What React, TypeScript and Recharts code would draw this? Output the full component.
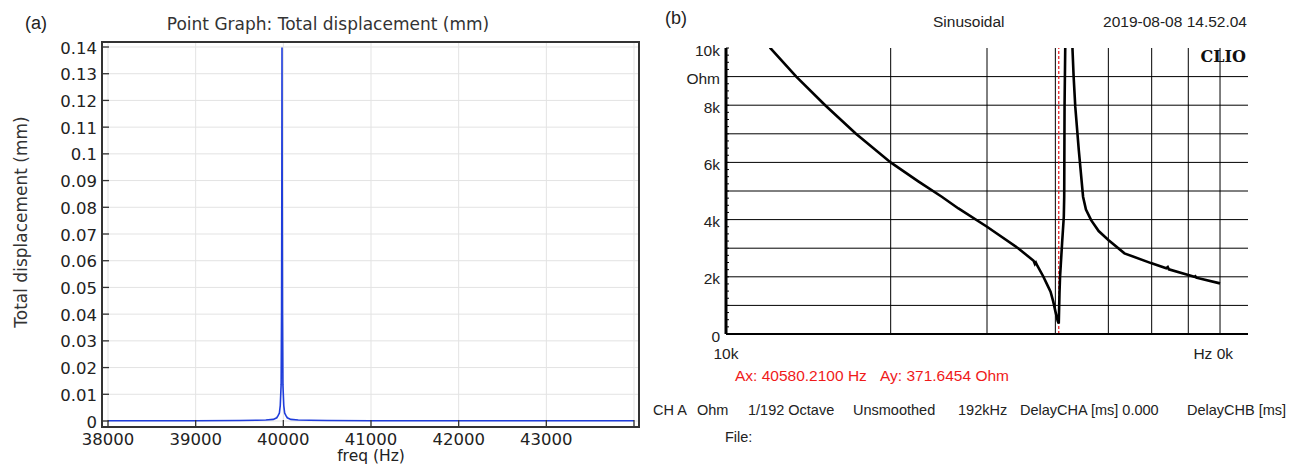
import React from "react";
import { LineChart, Line, XAxis, YAxis, CartesianGrid, ReferenceLine } from "recharts";

// ---------- Panel (a): COMSOL point graph ----------
const freqA = [38000, 39000, 39500, 39700, 39800, 39885, 39925, 39940, 39955, 39965, 39975, 39980, 39983, 39985, 39987, 39990, 39995, 40005, 40015, 40030, 40045, 40085, 40170, 40300, 40500, 41000, 42000, 43000, 44000];
const dispA = [0.0001, 0.0001, 0.0002, 0.0003, 0.0004, 0.0006, 0.0012, 0.002, 0.003, 0.0058, 0.0137, 0.042, 0.09, 0.1398, 0.09, 0.042, 0.0137, 0.0058, 0.003, 0.002, 0.0012, 0.0006, 0.0004, 0.0003, 0.0002, 0.0001, 0.0001, 0.0001, 0.0001];
const xTicksA = [38000, 39000, 40000, 41000, 42000, 43000, 44000];
const xLabelsA = ["38000", "39000", "40000", "41000", "42000", "43000", ""];
const yTicksA = [0, 0.01, 0.02, 0.03, 0.04, 0.05, 0.06, 0.07, 0.08, 0.09, 0.1, 0.11, 0.12, 0.13, 0.14];
const yLabelsA = ["0", "0.01", "0.02", "0.03", "0.04", "0.05", "0.06", "0.07", "0.08", "0.09", "0.1", "0.11", "0.12", "0.13", "0.14"];

// ---------- Panel (b): CLIO impedance ----------
const freqB = [11500, 12050, 13440, 15180, 17280, 20000, 22500, 24800, 26600, 30000, 34200, 36500, 36700, 36850, 37100, 38000, 38550, 39200, 39650, 40000, 40400, 40580, 40700, 40800, 41150, 41450, 41520, 41580, 41700, 42000, 42600, 43000, 43200, 43500, 44150, 44950, 45500, 46500, 48000, 50000, 53500, 60000, 63800, 64200, 64500, 70000, 71800, 72100, 72400, 80000];
const ohmB = [11000, 10000, 9000, 8000, 7000, 6000, 5330, 4800, 4390, 3750, 3000, 2560, 2450, 2500, 2380, 2020, 1770, 1480, 1130, 800, 450, 372, 1400, 2000, 3170, 4100, 4800, 7950, 10000, 13000, 13000, 9930, 9000, 7950, 6430, 4800, 4350, 3980, 3600, 3290, 2820, 2470, 2300, 2340, 2260, 2060, 2000, 2020, 1970, 1770];
const yGridB = [1000, 2000, 3000, 4000, 5000, 6000, 7000, 8000, 9000];
const yLabelTicksB = [0, 2000, 4000, 6000, 8000, 9000, 10000];
const yLabelsB = ["0", "2k", "4k", "6k", "8k", "Ohm", "10k"];
const yMinorB = Array.from({ length: 41 }, (_, i) => i * 250);
const xGridB = [20000, 30000, 40000, 50000, 60000, 70000, 80000];
const xTicksB = [10000, 90000];
const xLabelsB = ["10k", "Hz 0k"];
const cursorB = 40580;

const dataA = freqA.map((f, i) => ({ f, d: dispA[i] }));
const dataB = freqB.map((f, i) => ({ f, z: ohmB[i] }));

const FA = "'DejaVu Sans', sans-serif";
const FB = "'Liberation Sans', Arial, sans-serif";
const AXA = "#333333";

function T({ x, y, s, f, c = "#222", a = "start", w = 400, rot, children }: any) {
  const tx = a === "end" ? "-100%" : a === "middle" ? "-50%" : "0";
  return (
    <div
      style={{
        position: "absolute",
        left: x,
        top: y,
        transform: `translate(${tx}, -50%)${rot ? ` rotate(${rot}deg)` : ""}`,
        fontFamily: f,
        fontSize: s,
        color: c,
        fontWeight: w,
        whiteSpace: "nowrap",
        lineHeight: 1,
      }}
    >
      {children}
    </div>
  );
}

const LeftTickA = (p: any) => {
  const i = yTicksA.indexOf(p.payload.value);
  return (
    <g>
      <line x1={p.x} x2={p.x + 7} y1={p.y} y2={p.y} stroke={AXA} strokeWidth={1.3} />
      <text x={p.x - 5} y={p.y + 1} textAnchor="end" dominantBaseline="central" fontFamily={FA} fontSize={16.5} fill="#222">
        {yLabelsA[i]}
      </text>
    </g>
  );
};
const RightTickA = (p: any) => (
  <line x1={p.x} x2={p.x - 7} y1={p.y} y2={p.y} stroke={AXA} strokeWidth={1.3} />
);
const BottomTickA = (p: any) => {
  const i = xTicksA.indexOf(p.payload.value);
  return (
    <g>
      <line x1={p.x} x2={p.x} y1={p.y} y2={p.y - 7} stroke={AXA} strokeWidth={1.3} />
      <text x={p.x} y={p.y + 12.5} textAnchor="middle" dominantBaseline="central" fontFamily={FA} fontSize={16.5} fill="#222">
        {xLabelsA[i]}
      </text>
    </g>
  );
};
const TopTickA = (p: any) => (
  <line x1={p.x} x2={p.x} y1={p.y} y2={p.y + 7} stroke={AXA} strokeWidth={1.3} />
);

const LeftTickB = (p: any) => {
  const i = yLabelTicksB.indexOf(p.payload.value);
  return (
    <g>
      <line x1={p.x} x2={p.x + 3} y1={p.y} y2={p.y} stroke="#000" strokeWidth={1} />
      {i >= 0 ? (
        <text x={p.x - 6} y={p.y + 2} textAnchor="end" dominantBaseline="central" fontFamily={FB} fontSize={15.5} fill="#222">
          {yLabelsB[i]}
        </text>
      ) : null}
    </g>
  );
};
const RightTickB = (p: any) => (
  <line x1={p.x} x2={p.x - 3} y1={p.y} y2={p.y} stroke="#000" strokeWidth={1} />
);
const BottomTickB = (p: any) => {
  const i = xTicksB.indexOf(p.payload.value);
  const last = i === xTicksB.length - 1;
  return (
    <text
      x={last ? p.x - 15 : p.x}
      y={p.y + 19}
      textAnchor={last ? "end" : "middle"}
      dominantBaseline="central"
      fontFamily={FB}
      fontSize={15.5}
      fill="#222"
    >
      {xLabelsB[i]}
    </text>
  );
};

export default function App() {
  return (
    <div style={{ position: "absolute", left: 0, top: 0, width: 1305, height: 467, background: "#fff", overflow: "hidden" }}>
      {/* Panel (a) */}
      <div style={{ position: "absolute", left: 0, top: 0 }}>
        <LineChart width={650} height={467} data={dataA} margin={{ top: 42, right: 11, bottom: 10, left: 0 }}>
          <CartesianGrid stroke="#e3e3e3" strokeWidth={1} />
          <XAxis
            dataKey="f"
            type="number"
            domain={[38000, 44000]}
            ticks={xTicksA}
            interval={0}
            padding={{ left: 6, right: 5 }}
            height={30}
            tickSize={0}
            tickMargin={0}
            tickLine={false}
            axisLine={{ stroke: AXA, strokeWidth: 2 }}
            tick={BottomTickA}
          />
          <XAxis
            xAxisId="top"
            orientation="top"
            dataKey="f"
            type="number"
            domain={[38000, 44000]}
            ticks={xTicksA}
            interval={0}
            padding={{ left: 6, right: 5 }}
            height={0}
            tickSize={0}
            tickMargin={0}
            tickLine={false}
            axisLine={{ stroke: AXA, strokeWidth: 2 }}
            tick={TopTickA}
          />
          <YAxis
            type="number"
            domain={[0, 0.14]}
            ticks={yTicksA}
            interval={0}
            padding={{ top: 5, bottom: 6 }}
            width={102}
            tickSize={0}
            tickMargin={0}
            tickLine={false}
            axisLine={{ stroke: AXA, strokeWidth: 2 }}
            tick={LeftTickA}
          />
          <YAxis
            yAxisId="right"
            orientation="right"
            type="number"
            domain={[0, 0.14]}
            ticks={yTicksA}
            interval={0}
            padding={{ top: 5, bottom: 6 }}
            width={0}
            tickSize={0}
            tickMargin={0}
            tickLine={false}
            axisLine={{ stroke: AXA, strokeWidth: 2 }}
            tick={RightTickA}
          />
          <Line dataKey="d" type="linear" stroke="#1f3ddb" strokeWidth={1.6} dot={false} isAnimationActive={false} />
        </LineChart>
      </div>
      {/* plot frame of panel (a) */}
      <div style={{ position: "absolute", left: 101, top: 41, width: 539, height: 387, border: `2px solid ${AXA}`, boxSizing: "border-box", pointerEvents: "none" }} />

      {/* Panel (b) */}
      <div style={{ position: "absolute", left: 650, top: 0 }}>
        <LineChart width={655} height={467} data={dataB} margin={{ top: 48, right: 57, bottom: 103, left: 0 }}>
          <XAxis
            dataKey="f"
            type="number"
            scale="log"
            domain={[10000, 90000]}
            allowDataOverflow
            ticks={xTicksB}
            interval={0}
            height={30}
            tickSize={0}
            tickMargin={0}
            tickLine={false}
            axisLine={{ stroke: "#000", strokeWidth: 2 }}
            tick={BottomTickB}
          />
          <XAxis
            xAxisId="top"
            orientation="top"
            dataKey="f"
            type="number"
            scale="log"
            domain={[10000, 90000]}
            allowDataOverflow
            height={0}
            tick={false}
            tickLine={false}
            axisLine={{ stroke: "#000", strokeWidth: 2 }}
          />
          <YAxis
            type="number"
            domain={[0, 10000]}
            allowDataOverflow
            ticks={yMinorB}
            interval={0}
            width={76}
            tickSize={0}
            tickMargin={0}
            tickLine={false}
            axisLine={{ stroke: "#000", strokeWidth: 3 }}
            tick={LeftTickB}
          />
          <YAxis
            yAxisId="right"
            orientation="right"
            type="number"
            domain={[0, 10000]}
            ticks={yMinorB}
            interval={0}
            width={0}
            tickSize={0}
            tickMargin={0}
            tickLine={false}
            axisLine={{ stroke: "#000", strokeWidth: 2 }}
            tick={RightTickB}
          />
          {yGridB.map((v) => (
            <ReferenceLine key={"h" + v} y={v} stroke="#000" strokeWidth={1} />
          ))}
          {xGridB.map((v) => (
            <ReferenceLine key={"v" + v} x={v} stroke="#000" strokeWidth={1} />
          ))}
          <ReferenceLine x={cursorB} stroke="#e8141b" strokeWidth={1.2} strokeDasharray="3 2" />
          <Line dataKey="z" type="linear" stroke="#000" strokeWidth={2.6} dot={false} isAnimationActive={false} />
        </LineChart>
      </div>

      {/* Panel (a) texts */}
      <T x={25} y={23} s={18} f={FB}>(a)</T>
      <T x={328} y={24} s={17} f={FA} a="middle" c="#333">Point Graph: Total displacement (mm)</T>
      <T x={21} y={222} s={17} f={FA} a="middle" c="#333" rot={-90}>Total displacement (mm)</T>
      <T x={371} y={456.5} s={15.5} f={FA} a="middle" c="#222">freq (Hz)</T>

      {/* Panel (b) texts */}
      <T x={665} y={18} s={18} f={FB}>(b)</T>
      <T x={933} y={22} s={15.5} f={FB}>Sinusoidal</T>
      <T x={1247} y={22} s={15.5} f={FB} a="end">2019-08-08 14.52.04</T>
      <T x={1246} y={57} s={16} f="'DejaVu Serif', serif" w={700} a="end" c="#111">CLIO</T>
      <T x={735} y={376} s={15.5} f={FB} c="#f01a1a">Ax: 40580.2100 Hz</T>
      <T x={880} y={376} s={15.5} f={FB} c="#f01a1a">Ay: 371.6454 Ohm</T>
      <T x={653} y={410} s={14.5} f={FB}>CH A</T>
      <T x={697} y={410} s={14.5} f={FB}>Ohm</T>
      <T x={748} y={410} s={14.5} f={FB}>1/192 Octave</T>
      <T x={853} y={410} s={14.5} f={FB}>Unsmoothed</T>
      <T x={958} y={410} s={14.5} f={FB}>192kHz</T>
      <T x={1020} y={410} s={14.5} f={FB}>DelayCHA [ms] 0.000</T>
      <T x={1187} y={410} s={14.5} f={FB}>DelayCHB [ms]</T>
      <T x={725} y={437} s={14.5} f={FB}>File:</T>
    </div>
  );
}
